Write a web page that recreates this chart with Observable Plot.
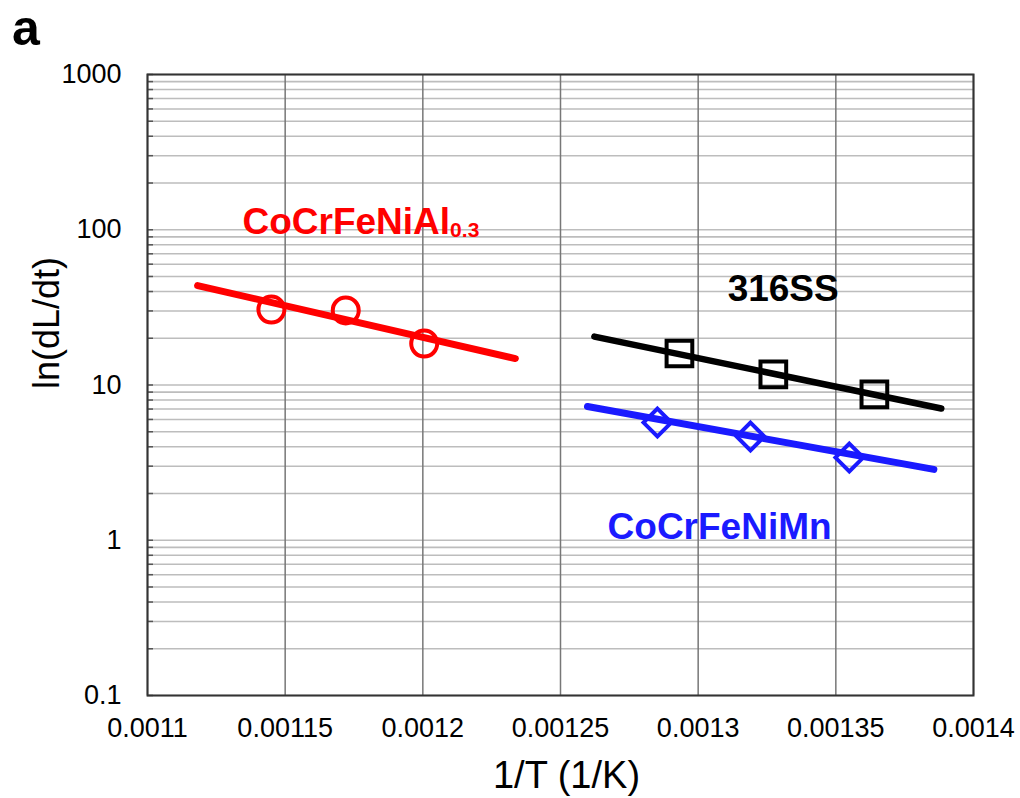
<!DOCTYPE html>
<html><head><meta charset="utf-8">
<script src="https://cdn.jsdelivr.net/npm/d3@7"></script>
<script src="https://cdn.jsdelivr.net/npm/@observablehq/plot@0.6"></script>
<style>
body{margin:0;background:#fff;}
#wrap{position:relative;width:1020px;height:798px;font-family:"Liberation Sans",Arial,sans-serif;}
#panel{position:absolute;left:12px;top:0;font-size:50px;font-weight:bold;line-height:56px;height:56px;}
</style></head><body><div id="wrap"><div id="panel">a</div></div>
<script>
// ---- data ----
const xTicks = [0.0011, 0.00115, 0.0012, 0.00125, 0.0013, 0.00135, 0.0014];
const xTickLabels = ["0.0011", "0.00115", "0.0012", "0.00125", "0.0013", "0.00135", "0.0014"];
const yTicks = [0.1, 1, 10, 100, 1000];
const yTickLabels = ["0.1", "1", "10", "100", "1000"];

const alX = [0.001145, 0.001172, 0.0012005];
const alY = [30.6, 30.2, 18.5];
const alFitX = [0.0011182, 0.0012336];
const alFitY = [43.7, 14.8];

const ssX = [0.0012932, 0.0013273, 0.001364];
const ssY = [15.96, 11.7, 8.69];
const ssFitX = [0.0012623, 0.0013883];
const ssFitY = [20.5, 7.06];

const mnX = [0.0012852, 0.001319, 0.0013549];
const mnY = [5.73, 4.66, 3.41];
const mnFitX = [0.0012598, 0.0013856];
const mnFitY = [7.27, 2.86];

const seriesLabels = ["CoCrFeNiAl0.3", "316SS", "CoCrFeNiMn"];
const labelX = [0.0011345, 0.0013107, 0.0012671];
const labelY = [93.2, 35.0, 1.026];
const seriesColors = ["#ff0000", "#000000", "#1a1aff"];

// ---- build ----
const pts = (xs, ys) => xs.map((x, i) => ({x, y: ys[i]}));
const gridY = [];
for (let e = -1; e < 3; e++) for (let m = 1; m < 10; m++) gridY.push(+(m * 10 ** e).toPrecision(3));
gridY.push(1000);
const labels = seriesLabels.map((t, i) => ({t, x: labelX[i], y: labelY[i], c: seriesColors[i]}));

const chart = Plot.plot({
  width: 1020,
  height: 798,
  marginLeft: 147,
  marginRight: 47,
  marginTop: 74,
  marginBottom: 103,
  style: {fontFamily: '"Liberation Sans", Arial, sans-serif', background: "#fff", color: "#000"},
  x: {domain: [0.0011, 0.0014], ticks: xTicks},
  y: {type: "log", domain: [0.1, 1000], ticks: yTicks},
  marks: [
    Plot.ruleY(gridY, {stroke: "#bdbdbd", strokeWidth: 1.6}),
    Plot.ruleX(xTicks, {stroke: "#777", strokeWidth: 1.5}),
    Plot.axisY({ticks: gridY, tickSize: 6, dx: 6, tickFormat: () => "", stroke: "#555", strokeWidth: 1.5, label: null}),
    Plot.axisY({ticks: yTicks, tickSize: 0, tickPadding: 26, fontSize: 27, tickFormat: d => yTickLabels[yTicks.indexOf(d)], label: null}),
    Plot.axisX({ticks: xTicks, tickSize: 0, tickPadding: 22, fontSize: 27, tickFormat: d => xTickLabels[xTicks.indexOf(d)], label: null}),
    Plot.frame({stroke: "#333", strokeWidth: 2}),
    Plot.text(["1/T (1/K)"], {frameAnchor: "bottom", dx: 6, dy: 92, lineAnchor: "bottom", fontSize: 38, fill: "#000"}),
    Plot.text(["ln(dL/dt)"], {frameAnchor: "left", dx: -100, dy: 4, rotate: -90, fontSize: 36, fill: "#000"}),
    Plot.dot(pts(alX, alY), {x: "x", y: "y", symbol: "circle", r: 13, stroke: seriesColors[0], strokeWidth: 4, fill: "none"}),
    Plot.dot(pts(ssX, ssY), {x: "x", y: "y", symbol: "square", r: 14.5, stroke: seriesColors[1], strokeWidth: 4, fill: "none"}),
    Plot.dot(pts(mnX, mnY), {x: "x", y: "y", symbol: "diamond2", r: 12.5, stroke: seriesColors[2], strokeWidth: 4, fill: "none"}),
    Plot.line(pts(alFitX, alFitY), {x: "x", y: "y", stroke: seriesColors[0], strokeWidth: 7}),
    Plot.line(pts(ssFitX, ssFitY), {x: "x", y: "y", stroke: seriesColors[1], strokeWidth: 6.5}),
    Plot.line(pts(mnFitX, mnFitY), {x: "x", y: "y", stroke: seriesColors[2], strokeWidth: 7}),
    Plot.text(labels, {x: "x", y: "y", text: "t", fill: "c", textAnchor: "start", lineAnchor: "bottom", fontSize: 37, fontWeight: "bold"})
  ]
});

// subscript for Al0.3
d3.select(chart).selectAll("text").each(function() {
  if (this.textContent === "CoCrFeNiAl0.3") {
    const el = d3.select(this);
    el.text("");
    el.append("tspan").text("CoCrFeNiAl");
    el.append("tspan").attr("font-size", 21).attr("dy", 3).text("0.3");
  }
});

document.getElementById("wrap").prepend(chart);
</script>
</body></html>
